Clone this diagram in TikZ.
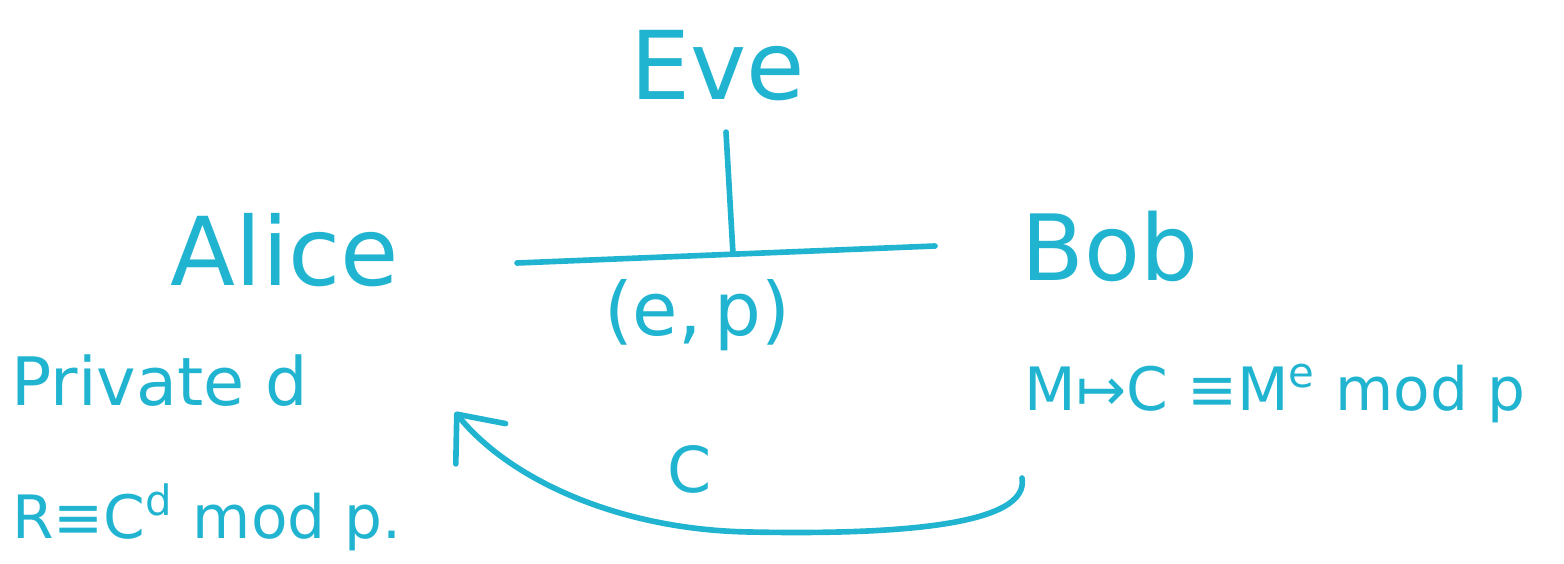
\documentclass[tikz,border=0pt]{standalone}
\usepackage{fontspec}
\setmainfont{DejaVu Sans}
\usetikzlibrary{arrows.meta,positioning,calc}
\definecolor{marker}{RGB}{32,180,208}
\tikzset{
  who/.style={text=marker,inner sep=0pt,anchor=base,font=\fontsize{27}{30}\selectfont},
  note/.style={text=marker,inner sep=0pt,anchor=base,font=\fontsize{19}{22}\selectfont},
  wire/.style={draw=marker,line width=1.6pt,line cap=round},
  arr/.style={wire,-{Straight Barb[length=3.8mm,width=6.4mm,line cap=round,round]}},
}

\begin{document}
\begin{tikzpicture}[x=0.01cm,y=-0.01cm]
  \useasboundingbox (0,0) rectangle (1564,564);
  % parties
  \node[who] (eve) at (718,100) {Eve};
  \node[who] (alice) at (285,285) {Alice};
  \node[who,font=\fontsize{26}{30}\selectfont] (bob) at (1110,280) {Bob};
  % public channel and the tap
  \coordinate (chanL) at (517,263);
  \coordinate (chanR) at (935,246);
  \coordinate (tap) at (733,254);
  \draw[wire] (chanL) -- (chanR);
  \draw[wire] (eve.south) ++(8,30) coordinate (tapTop) (tapTop) -- (tap);
  \node[note,font=\fontsize{21}{24}\selectfont] (pub) at (697,335) {(e,\,p)};
  % what each side does
  \node[note] (priv) at (160,405) {Private d};
  \node[note,font=\fontsize{17}{20}\selectfont] (dec) at (207,538) {R≡C\textsuperscript{d} mod p.};
  \node[note,font=\fontsize{17}{20}\selectfont] (enc) at (1275,410) {M↦C ≡M\textsuperscript{e} mod p};
  % ciphertext sent back
  \coordinate (cstart) at (1022,478);
  \coordinate (cend) at (455,412);
  \draw[arr] (cstart) .. controls (1030,525) and (900,535) .. (750,532)
    .. controls (620,530) and (510,480) .. (cend);
  \node[note,font=\fontsize{18}{22}\selectfont] (ctext) at (690,492) {C};
\end{tikzpicture}
\end{document}
